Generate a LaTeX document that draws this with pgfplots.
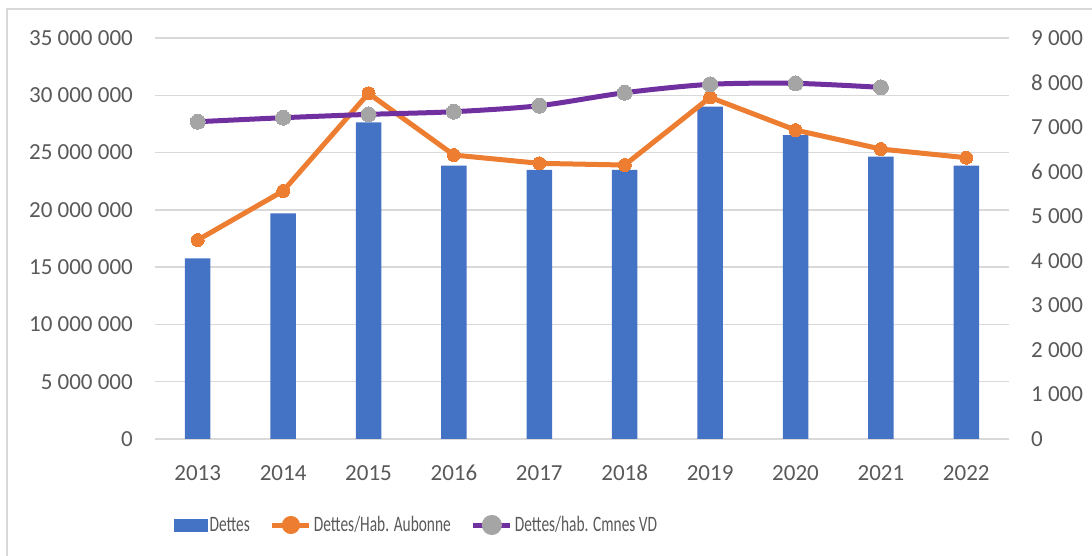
\documentclass[border=0pt]{standalone}
\usepackage{pgfplots}
\pgfplotsset{compat=1.18}
\usepackage{fontspec}
\setmainfont{Carlito}
\newfontfamily\legfont[FakeStretch=0.7]{Carlito}
\definecolor{barblue}{HTML}{4472C4}
\definecolor{lorange}{HTML}{ED7D31}
\definecolor{lpurple}{HTML}{7030A0}
\definecolor{mgray}{HTML}{A5A5A5}
\definecolor{gridc}{HTML}{D9D9D9}
\definecolor{txt}{HTML}{595959}
\begin{document}
\begin{tikzpicture}[x=1pt,y=1pt]
\useasboundingbox (0,0) rectangle (1092,556);
\draw[gridc, line width=1.5pt] (7,0) -- (7,547) -- (1092,547);
\begin{axis}[
  at={(155pt,117pt)}, anchor=south west,
  scale only axis, width=854pt, height=401pt,
  xmin=-0.5, xmax=9.5, ymin=0, ymax=35e6,
  axis line style={draw=none}, tick style={draw=none},
  xtick={0,...,9},
  xticklabels={2013,2014,2015,2016,2017,2018,2019,2020,2021,2022},
  ytick={0,5e6,10e6,15e6,20e6,25e6,30e6,35e6},
  yticklabels={0,5 000 000,10 000 000,15 000 000,20 000 000,25 000 000,30 000 000,35 000 000},
  scaled y ticks=false,
  ymajorgrids, grid style={gridc, line width=1.5pt},
  ticklabel style={font=\fontsize{23}{27}\selectfont, text=txt, inner sep=0pt},
  yticklabel style={xshift=-22pt},
  xticklabel style={yshift=-26pt},
  axis y line*=left,
]
\addplot[ybar, bar width=25.5pt, fill=barblue, draw=none] coordinates {
(0,15.77e6) (1,19.70e6) (2,27.64e6) (3,23.86e6) (4,23.50e6)
(5,23.50e6) (6,29.00e6) (7,26.53e6) (8,24.64e6) (9,23.86e6)};
\end{axis}
\begin{axis}[
  at={(155pt,117pt)}, anchor=south west,
  scale only axis, width=854pt, height=401pt,
  xmin=-0.5, xmax=9.5, ymin=0, ymax=9000,
  axis x line=none,
  axis y line*=right,
  axis line style={draw=none}, tick style={draw=none},
  ytick={0,1000,...,9000},
  yticklabels={0,1 000,2 000,3 000,4 000,5 000,6 000,7 000,8 000,9 000},
  ticklabel style={font=\fontsize{23}{27}\selectfont, text=txt, inner sep=0pt},
  yticklabel style={xshift=22pt},
  legend style={at={(0.0187,-0.2145)}, anchor=west, draw=none, fill=none,
    legend columns=3, column sep=0pt,
    /tikz/every even column/.append style={column sep=18pt},
    nodes={inner sep=2pt, text=txt, font=\legfont\fontsize{22}{26}\selectfont}},
  legend cell align=left,
]
\addlegendimage{legend image code/.code={\fill[barblue] (0pt,-6.3pt) rectangle (33pt,6.3pt);}}
\addlegendentry{Dettes}
\addplot[lorange, line width=5pt, mark=*, mark size=6.5pt,
  mark options={fill=lorange, draw=lorange, line width=0pt},
  legend image code/.code={\draw[lorange, line width=5pt] (0pt,0pt) -- (37pt,0pt);
    \fill[lorange] (18.5pt,0pt) circle (6.5pt);}]
coordinates {(0,4466) (1,5566) (2,7758) (3,6373) (4,6187) (5,6149) (6,7668) (7,6934) (8,6508) (9,6313)};
\addlegendentry{Dettes/Hab. Aubonne}
\addplot[lpurple, line width=5pt, smooth, mark=*, mark size=7.5pt,
  mark options={fill=mgray, draw=mgray, line width=0pt},
  legend image code/.code={\draw[lpurple, line width=5pt] (0pt,0pt) -- (37pt,0pt);
    \fill[mgray] (18.5pt,0pt) circle (7.5pt);}]
coordinates {(0,7121) (1,7211) (2,7286) (3,7346) (4,7481) (5,7772) (6,7960) (7,7982) (8,7892)};
\addlegendentry{Dettes/hab. Cmnes VD}
\end{axis}
\end{tikzpicture}
\end{document}
